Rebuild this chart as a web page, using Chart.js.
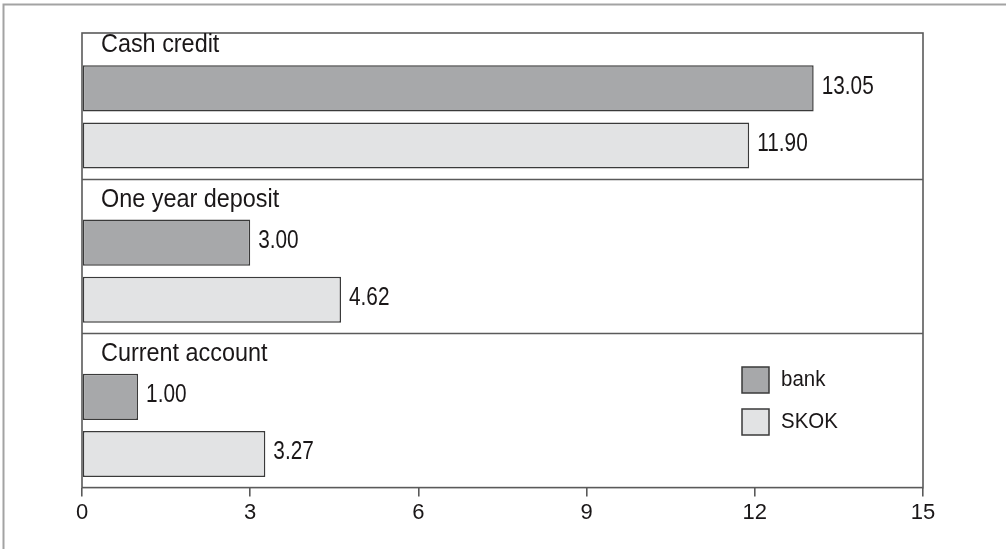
<!DOCTYPE html>
<html>
<head>
<meta charset="utf-8">
<script src="https://cdn.jsdelivr.net/npm/chart.js@4.4.0/dist/chart.umd.min.js"></script>
<style>
  html, body { margin: 0; padding: 0; background: #fff; }
</style>
</head>
<body>
<canvas id="rates" width="1006" height="549"></canvas>
<script>
// interest rates, %
const groups = ['Cash credit', 'One year deposit', 'Current account'];
const bank = [13.05, 3.00, 1.00];
const skok = [11.90, 4.62, 3.27];
const xTicks = [0, 3, 6, 9, 12, 15];

const FONT = '"Liberation Sans", Arial, sans-serif';
const INK = '#1a1718';
const FRAME = '#5a5a5a';

function condensedText(ctx, str, x, y, size, sx) {
    ctx.save();
    ctx.translate(x, y);
    ctx.scale(sx, 1);
    ctx.font = size + 'px ' + FONT;
    ctx.fillStyle = INK;
    ctx.textAlign = 'left';
    ctx.textBaseline = 'middle';
    ctx.fillText(str, 0, 0);
    ctx.restore();
}

// frame, group separators, labels and legend
const decor = {
    id: 'decor',
    beforeDraw(chart) {
        const ctx = chart.ctx;
        ctx.save();
        ctx.strokeStyle = '#a3a3a3';
        ctx.lineWidth = 2;
        ctx.beginPath();
        ctx.moveTo(3.5, chart.height);
        ctx.lineTo(3.5, 4.5);
        ctx.lineTo(chart.width, 4.5);
        ctx.stroke();
        ctx.restore();
    },
    beforeDatasetsDraw(chart) {
        const ctx = chart.ctx;
        const a = chart.chartArea;
        const skokMeta = chart.getDatasetMeta(1);
        ctx.save();
        ctx.strokeStyle = FRAME;
        ctx.lineWidth = 1.6;
        ctx.strokeRect(a.left, a.top, a.right - a.left, a.bottom - a.top);
        ctx.beginPath();
        for (let i = 0; i < groups.length - 1; i++) {
            const el = skokMeta.data[i];
            const y = Math.round(el.y + el.height / 2 + 10) + 0.5;
            ctx.moveTo(a.left, y);
            ctx.lineTo(a.right, y);
        }
        ctx.stroke();
        ctx.restore();
    },
    afterDatasetsDraw(chart) {
        const ctx = chart.ctx;
        const a = chart.chartArea;
        const bankMeta = chart.getDatasetMeta(0);

        groups.forEach((g, i) => {
            const el = bankMeta.data[i];
            condensedText(ctx, g, a.left + 19, el.y - el.height / 2 - 20, 26, 0.9);
        });

        chart.data.datasets.forEach((ds, d) => {
            chart.getDatasetMeta(d).data.forEach((el, i) => {
                condensedText(ctx, ds.data[i].x.toFixed(2), el.x + 8, el.y - 2, 26, 0.8);
            });
        });

        // legend
        const lx = a.left + 660, ly = a.top + 334;
        chart.data.datasets.forEach((ds, d) => {
            const top = ly + d * 42;
            ctx.save();
            ctx.fillStyle = ds.backgroundColor;
            ctx.strokeStyle = ds.borderColor;
            ctx.lineWidth = 1.5;
            ctx.fillRect(lx, top, 27, 26);
            ctx.strokeRect(lx, top, 27, 26);
            ctx.restore();
            condensedText(ctx, ds.label, lx + 39, top + 13, 22, 0.93);
        });
    }
};

new Chart(document.getElementById('rates'), {
    type: 'bar',
    data: {
        datasets: [{
            label: 'bank',
            data: bank.map((v, i) => ({ x: v, y: i })),
            backgroundColor: '#a7a8aa',
            borderColor: '#3a3a3a',
            borderWidth: 1.5,
            borderSkipped: false
        }, {
            label: 'SKOK',
            data: skok.map((v, i) => ({ x: v, y: i })),
            backgroundColor: '#e2e3e4',
            borderColor: '#3a3a3a',
            borderWidth: 1.5,
            borderSkipped: false
        }]
    },
    options: {
        indexAxis: 'y',
        responsive: false,
        animation: false,
        categoryPercentage: 0.741,
        barPercentage: 0.807,
        layout: { padding: { left: 82, right: 83, top: 33, bottom: 20 } },
        plugins: {
            legend: { display: false },
            tooltip: { enabled: false }
        },
        scales: {
            y: {
                type: 'linear',
                reverse: true,
                offset: false,
                display: false,
                min: -0.544,
                max: 2.403,
                afterBuildTicks: (scale) => {
                    scale.ticks = groups.map((g, i) => ({ value: i }));
                }
            },
            x: {
                type: 'linear',
                min: 0,
                max: 15,
                afterBuildTicks: (scale) => {
                    scale.ticks = xTicks.map(v => ({ value: v }));
                },
                border: { display: false },
                grid: {
                    drawOnChartArea: false,
                    drawTicks: true,
                    tickLength: 9,
                    color: FRAME,
                    lineWidth: 1.6
                },
                ticks: {
                    color: INK,
                    padding: 3,
                    font: { family: FONT, size: 22 }
                }
            }
        }
    },
    plugins: [decor]
});
</script>
</body>
</html>
